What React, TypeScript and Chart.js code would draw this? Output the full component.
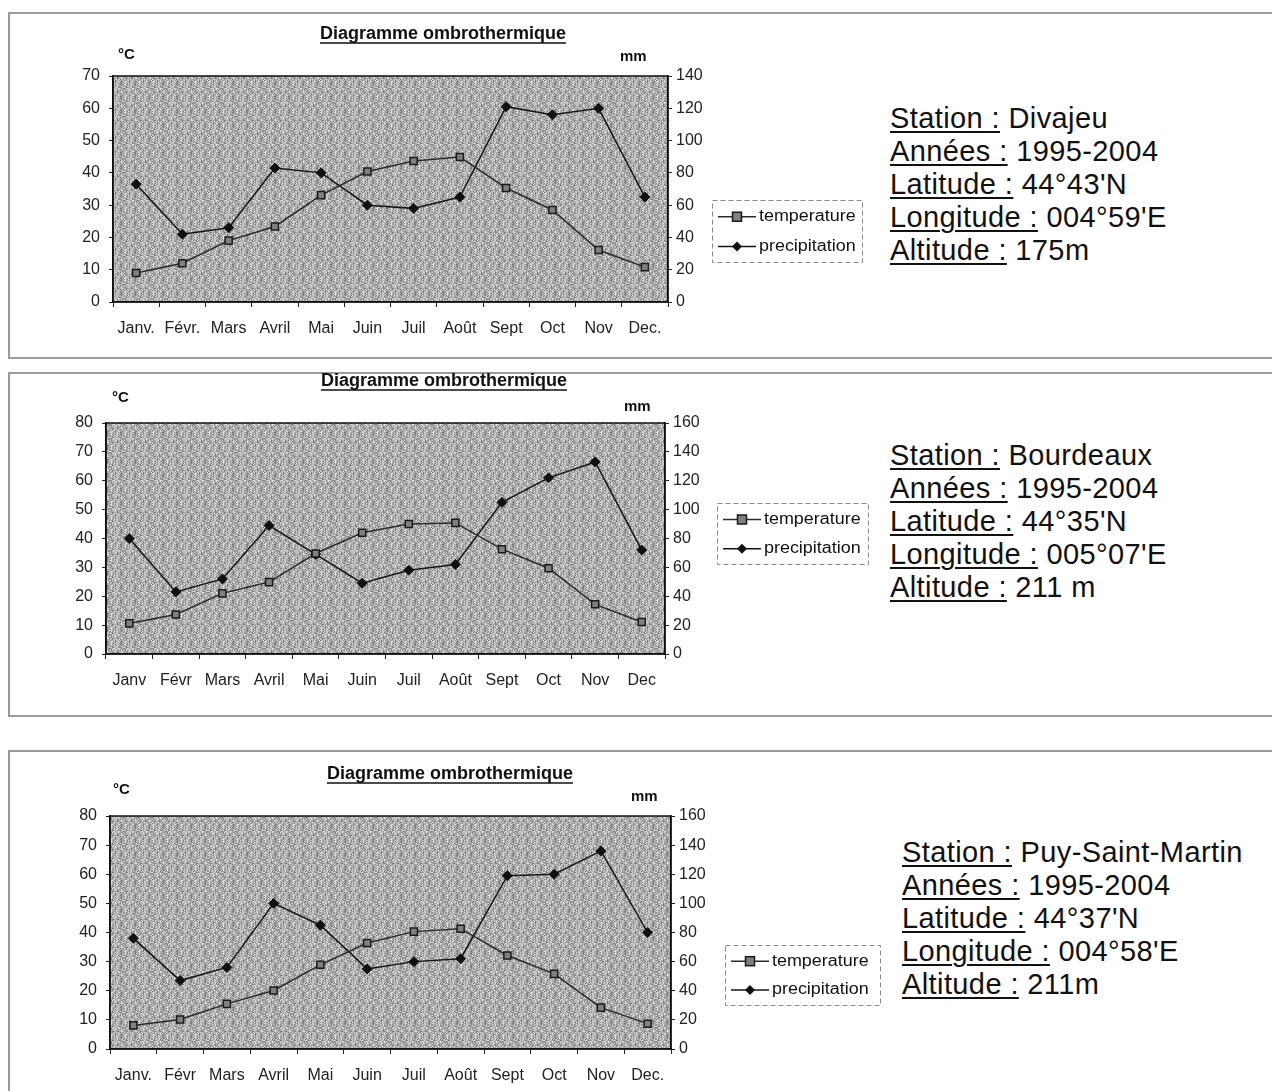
import React, { useEffect, useRef } from 'react';
import { Chart, registerables } from 'chart.js';

Chart.register(...registerables);

// ---------- DATA ----------
const chartTitle = 'Diagramme ombrothermique';
const leftUnit = '°C';
const rightUnit = 'mm';
const seriesNames = ['temperature', 'precipitation'];

const months1 = ['Janv.', 'Févr.', 'Mars', 'Avril', 'Mai', 'Juin', 'Juil', 'Août', 'Sept', 'Oct', 'Nov', 'Dec.'];
const months2 = ['Janv', 'Févr', 'Mars', 'Avril', 'Mai', 'Juin', 'Juil', 'Août', 'Sept', 'Oct', 'Nov', 'Dec'];
const months3 = ['Janv.', 'Févr', 'Mars', 'Avril', 'Mai', 'Juin', 'Juil', 'Août', 'Sept', 'Oct', 'Nov', 'Dec.'];

const temp1 = [9.0, 12.0, 19.0, 23.4, 33.1, 40.4, 43.7, 44.9, 35.3, 28.5, 16.1, 10.8];
const precip1 = [73, 42, 46, 83, 80, 60, 58, 65, 121, 116, 120, 65];
const temp2 = [10.6, 13.7, 21.0, 24.9, 34.8, 42.0, 45.0, 45.4, 36.3, 29.7, 17.2, 11.1];
const precip2 = [80, 43, 52, 89, 69, 49, 58, 62, 105, 122, 133, 72];
const temp3 = [8.1, 10.1, 15.5, 20.1, 28.9, 36.4, 40.3, 41.3, 32.1, 25.8, 14.2, 8.7];
const precip3 = [76, 47, 56, 100, 85, 55, 60, 62, 119, 120, 136, 80];

const tempTicks1 = [0, 10, 20, 30, 40, 50, 60, 70];
const precipTicks1 = [0, 20, 40, 60, 80, 100, 120, 140];
const tempTicks2 = [0, 10, 20, 30, 40, 50, 60, 70, 80];
const precipTicks2 = [0, 20, 40, 60, 80, 100, 120, 140, 160];

const stationLabels = ['Station :', 'Années :', 'Latitude :', 'Longitude :', 'Altitude :'];
const station1 = ['Divajeu', '1995-2004', "44°43'N", "004°59'E", '175m'];
const station2 = ['Bourdeaux', '1995-2004', "44°35'N", "005°07'E", '211 m'];
const station3 = ['Puy-Saint-Martin', '1995-2004', "44°37'N", "004°58'E", '211m'];

// ---------- LAYOUT ----------
const FONT = '"Liberation Sans", Arial, Helvetica, sans-serif';
const CANVAS_LEFT = 60;
const CANVAS_WIDTH = 830;
const RIGHT_AXIS_W = 45;

type Pt = { x: number; y: number };
type PanelCfg = {
  panelTop: number;
  panelHeight: number;
  canvasTop: number;
  canvasHeight: number;
  plot: { left: number; right: number; top: number; bottom: number };
  title: Pt;
  cUnit: Pt;
  mmUnit: Pt;
  legend: { x: number; y: number; w: number; h: number };
  text: Pt;
  months: string[];
  temp: number[];
  precip: number[];
  tempTicks: number[];
  precipTicks: number[];
  station: string[];
};

const panels: PanelCfg[] = [
  {
    panelTop: 12, panelHeight: 347, canvasTop: 14, canvasHeight: 342,
    plot: { left: 113, right: 668, top: 76, bottom: 302 },
    title: { x: 443, y: 34 }, cUnit: { x: 118, y: 55 }, mmUnit: { x: 620, y: 57 },
    legend: { x: 712, y: 200, w: 150, h: 62 },
    text: { x: 890, y: 118 },
    months: months1, temp: temp1, precip: precip1,
    tempTicks: tempTicks1, precipTicks: precipTicks1, station: station1,
  },
  {
    panelTop: 372, panelHeight: 345, canvasTop: 364, canvasHeight: 344,
    plot: { left: 106, right: 665, top: 423, bottom: 654 },
    title: { x: 444, y: 381 }, cUnit: { x: 112, y: 398 }, mmUnit: { x: 624, y: 407 },
    legend: { x: 717, y: 503, w: 151, h: 61 },
    text: { x: 890, y: 455 },
    months: months2, temp: temp2, precip: precip2,
    tempTicks: tempTicks2, precipTicks: precipTicks2, station: station2,
  },
  {
    panelTop: 750, panelHeight: 400, canvasTop: 757, canvasHeight: 334,
    plot: { left: 110, right: 671, top: 816, bottom: 1049 },
    title: { x: 450, y: 774 }, cUnit: { x: 113, y: 790 }, mmUnit: { x: 631, y: 797 },
    legend: { x: 725, y: 945, w: 155, h: 60 },
    text: { x: 902, y: 852 },
    months: months3, temp: temp3, precip: precip3,
    tempTicks: tempTicks2, precipTicks: precipTicks2, station: station3,
  },
];

const TEMP_STYLE = { line: '#2a2a2a', fill: '#808080', border: '#1a1a1a' };
const PRECIP_STYLE = { line: '#151515', fill: '#111111' };

let patternCanvas: HTMLCanvasElement | null = null;
function getPatternCanvas(): HTMLCanvasElement {
  if (patternCanvas) return patternCanvas;
  const c = document.createElement('canvas');
  c.width = 14;
  c.height = 14;
  const g = c.getContext('2d')!;
  g.fillStyle = '#acacac';
  g.fillRect(0, 0, 14, 14);
  for (let i = 0; i < 14; i++) {
    for (let j = 0; j < 14; j++) {
      const v = (i * 5 + j * 3 + ((i * j) % 4)) % 9;
      if (v === 0 || v === 4) {
        g.fillStyle = '#dedede';
        g.fillRect(i, j, 1, 1);
      } else if (v === 2 || v === 7) {
        g.fillStyle = '#7c7c7c';
        g.fillRect(i, j, 1, 1);
      }
    }
  }
  patternCanvas = c;
  return c;
}

function drawSquare(ctx: CanvasRenderingContext2D, x: number, y: number, r: number) {
  ctx.fillStyle = TEMP_STYLE.fill;
  ctx.strokeStyle = TEMP_STYLE.border;
  ctx.lineWidth = 1.5;
  ctx.fillRect(x - r, y - r, 2 * r, 2 * r);
  ctx.strokeRect(x - r, y - r, 2 * r, 2 * r);
}

function drawDiamond(ctx: CanvasRenderingContext2D, x: number, y: number, r: number) {
  ctx.fillStyle = PRECIP_STYLE.fill;
  ctx.beginPath();
  ctx.moveTo(x, y - r);
  ctx.lineTo(x + r, y);
  ctx.lineTo(x, y + r);
  ctx.lineTo(x - r, y);
  ctx.closePath();
  ctx.fill();
}

function makeDecor(cfg: PanelCfg) {
  const ox = CANVAS_LEFT;
  const oy = cfg.canvasTop;
  return {
    id: 'decor',
    beforeDraw(chart: any) {
      const { ctx, chartArea } = chart;
      ctx.save();
      const pat = ctx.createPattern(getPatternCanvas(), 'repeat');
      ctx.fillStyle = pat || '#acacac';
      ctx.fillRect(chartArea.left, chartArea.top, chartArea.right - chartArea.left, chartArea.bottom - chartArea.top);
      ctx.restore();
    },
    beforeDatasetsDraw(chart: any) {
      const { ctx, chartArea } = chart;
      ctx.save();
      ctx.strokeStyle = '#111';
      ctx.lineWidth = 1.5;
      ctx.strokeRect(chartArea.left, chartArea.top, chartArea.right - chartArea.left, chartArea.bottom - chartArea.top);
      ctx.restore();
    },
    afterDraw(chart: any) {
      const ctx: CanvasRenderingContext2D = chart.ctx;
      ctx.save();
      // title
      ctx.font = `bold 18px ${FONT}`;
      ctx.fillStyle = '#111';
      ctx.textAlign = 'center';
      ctx.textBaseline = 'middle';
      const tx = cfg.title.x - ox;
      const ty = cfg.title.y - oy;
      ctx.fillText(chartTitle, tx, ty);
      const tw = ctx.measureText(chartTitle).width;
      ctx.strokeStyle = '#111';
      ctx.lineWidth = 1.5;
      ctx.beginPath();
      ctx.moveTo(tx - tw / 2, ty + 9);
      ctx.lineTo(tx + tw / 2, ty + 9);
      ctx.stroke();
      // units
      ctx.font = `bold 15px ${FONT}`;
      ctx.textAlign = 'left';
      ctx.fillText(leftUnit, cfg.cUnit.x - ox, cfg.cUnit.y - oy);
      ctx.fillText(rightUnit, cfg.mmUnit.x - ox, cfg.mmUnit.y - oy);
      // legend
      const lx = cfg.legend.x - ox;
      const ly = cfg.legend.y - oy;
      ctx.setLineDash([5, 3]);
      ctx.strokeStyle = '#8a8a8a';
      ctx.lineWidth = 1;
      ctx.strokeRect(lx + 0.5, ly + 0.5, cfg.legend.w, cfg.legend.h);
      ctx.setLineDash([]);
      const rows = [ly + cfg.legend.h * 0.27, ly + cfg.legend.h * 0.75];
      chart.data.datasets.forEach((ds: any, i: number) => {
        const y = rows[i];
        ctx.strokeStyle = ds.borderColor;
        ctx.lineWidth = 1.5;
        ctx.beginPath();
        ctx.moveTo(lx + 6, y);
        ctx.lineTo(lx + 44, y);
        ctx.stroke();
        if (i === 0) drawSquare(ctx, lx + 25, y, 4.5);
        else drawDiamond(ctx, lx + 25, y, 5);
        ctx.save();
        ctx.translate(lx + 47, y);
        ctx.scale(1.12, 1);
        ctx.fillStyle = '#111';
        ctx.font = `16px ${FONT}`;
        ctx.textBaseline = 'middle';
        ctx.textAlign = 'left';
        ctx.fillText(ds.label, 0, 0);
        ctx.restore();
      });
      ctx.restore();
    },
  };
}

function ChartPanel({ cfg }: { cfg: PanelCfg }) {
  const ref = useRef<HTMLCanvasElement>(null);
  useEffect(() => {
    const canvas = ref.current;
    if (!canvas) return;
    const L = cfg.plot.left - CANVAS_LEFT;
    const T = cfg.plot.top - cfg.canvasTop;
    const Hx = cfg.canvasTop + cfg.canvasHeight - cfg.plot.bottom;
    const R = CANVAS_LEFT + CANVAS_WIDTH - cfg.plot.right - RIGHT_AXIS_W;
    const tickFont = { family: FONT, size: 16 };
    const chart = new Chart(canvas, {
      type: 'line',
      data: {
        labels: cfg.months,
        datasets: [
          {
            label: seriesNames[0],
            data: cfg.temp,
            yAxisID: 'y',
            borderColor: TEMP_STYLE.line,
            borderWidth: 1.5,
            pointStyle: 'rect',
            pointRadius: 5,
            pointBackgroundColor: TEMP_STYLE.fill,
            pointBorderColor: TEMP_STYLE.border,
            pointBorderWidth: 1.5,
            tension: 0,
          },
          {
            label: seriesNames[1],
            data: cfg.precip,
            yAxisID: 'y1',
            borderColor: PRECIP_STYLE.line,
            borderWidth: 1.5,
            pointStyle: 'rectRot',
            pointRadius: 5,
            pointBackgroundColor: PRECIP_STYLE.fill,
            pointBorderColor: PRECIP_STYLE.fill,
            pointBorderWidth: 1,
            tension: 0,
          },
        ],
      },
      options: {
        animation: false,
        responsive: false,
        devicePixelRatio: 1,
        layout: { padding: { top: T, right: R, bottom: 0, left: 0 } },
        plugins: { legend: { display: false }, tooltip: { enabled: false }, title: { display: false } },
        scales: {
          x: {
            type: 'category',
            offset: true,
            grid: { offset: true, drawOnChartArea: false, drawTicks: true, tickLength: 5, color: '#222' },
            border: { display: true, color: '#111', width: 1.5 },
            ticks: { padding: 12, color: '#222', font: tickFont, maxRotation: 0, autoSkip: false },
            afterFit: (s: any) => { s.height = Hx; },
          },
          y: {
            type: 'linear',
            position: 'left',
            min: cfg.tempTicks[0],
            max: cfg.tempTicks[cfg.tempTicks.length - 1],
            afterBuildTicks: (s: any) => { s.ticks = cfg.tempTicks.map((v) => ({ value: v })); },
            grid: { drawOnChartArea: false, drawTicks: true, tickLength: 4, color: '#222' },
            border: { display: true, color: '#111', width: 1.5 },
            ticks: { padding: 9, color: '#222', font: tickFont },
            afterFit: (s: any) => { s.width = L; },
          },
          y1: {
            type: 'linear',
            position: 'right',
            min: cfg.precipTicks[0],
            max: cfg.precipTicks[cfg.precipTicks.length - 1],
            afterBuildTicks: (s: any) => { s.ticks = cfg.precipTicks.map((v) => ({ value: v })); },
            grid: { drawOnChartArea: false, drawTicks: true, tickLength: 4, color: '#222' },
            border: { display: true, color: '#111', width: 1.5 },
            ticks: { padding: 4, color: '#222', font: tickFont },
            afterFit: (s: any) => { s.width = RIGHT_AXIS_W; },
          },
        },
      } as any,
      plugins: [makeDecor(cfg) as any],
    });
    return () => chart.destroy();
  }, [cfg]);
  return (
    <canvas
      ref={ref}
      width={CANVAS_WIDTH}
      height={cfg.canvasHeight}
      style={{ position: 'absolute', left: CANVAS_LEFT, top: cfg.canvasTop, width: CANVAS_WIDTH, height: cfg.canvasHeight }}
    />
  );
}

function StationText({ cfg }: { cfg: PanelCfg }) {
  const lh = 33;
  return (
    <div
      style={{
        position: 'absolute',
        left: cfg.text.x,
        top: cfg.text.y - lh / 2,
        fontFamily: FONT,
        fontSize: 29,
        letterSpacing: '0.4px',
        lineHeight: `${lh}px`,
        color: '#111',
        whiteSpace: 'nowrap',
      }}
    >
      {stationLabels.map((lab, i) => (
        <div key={i}>
          <span style={{ textDecoration: 'underline', textDecorationThickness: '2px', textUnderlineOffset: '3px' }}>{lab}</span>
          {' '}
          {cfg.station[i]}
        </div>
      ))}
    </div>
  );
}

export default function App() {
  return (
    <div style={{ position: 'absolute', left: 0, top: 0, width: 1272, height: 1091, overflow: 'hidden', background: '#fff' }}>
      {panels.map((p, i) => (
        <div
          key={'panel' + i}
          style={{
            position: 'absolute',
            left: 8,
            top: p.panelTop,
            width: 1300,
            height: p.panelHeight,
            border: '2px solid #9a9a9a',
            boxSizing: 'border-box',
          }}
        />
      ))}
      {panels.map((p, i) => (
        <ChartPanel key={'chart' + i} cfg={p} />
      ))}
      {panels.map((p, i) => (
        <StationText key={'text' + i} cfg={p} />
      ))}
    </div>
  );
}
